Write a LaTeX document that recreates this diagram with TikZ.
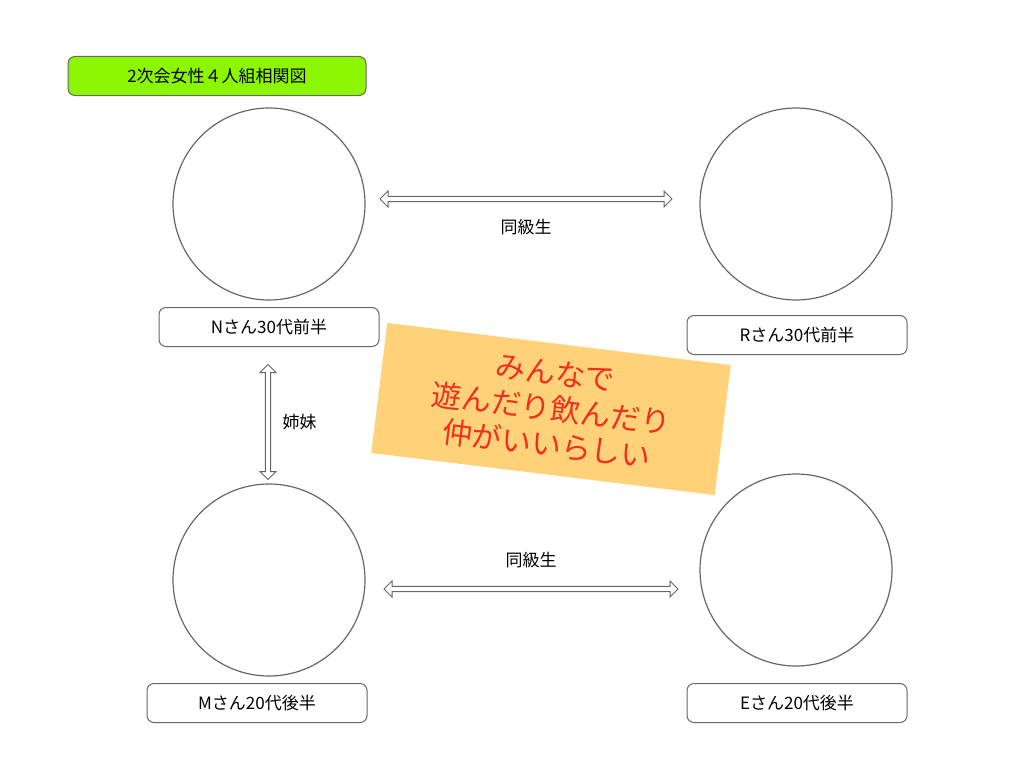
\documentclass[tikz,border=0pt]{standalone}
\usepackage{fontspec}
\setmainfont{Noto Sans CJK JP}
\usetikzlibrary{shapes.arrows, positioning}
\definecolor{lime}{HTML}{8CF500}
\definecolor{note}{HTML}{FFD27A}
\definecolor{ink}{HTML}{F0301E}
\begin{document}
\begin{tikzpicture}[
      x=1pt, y=-1pt,
      person/.style={circle, draw=gray!80!black, line width=1.2pt, minimum size=192pt},
      namebox/.style={rectangle, draw=gray!80!black, rounded corners=7pt, line width=1pt, minimum width=220pt, minimum height=39pt, font=\fontsize{17}{20}\selectfont},
      link/.style={double arrow, draw=gray!80!black, fill=white, line width=1pt, minimum height=#1, minimum width=16pt, double arrow head extend=3pt, inner sep=1pt},
      tag/.style={font=\fontsize{17}{20}\selectfont}
      ]
      \useasboundingbox (0,0) rectangle (1024,768);

      % Title
      \node[rectangle, draw=gray!80!black, fill=lime, rounded corners=7pt, line width=1pt, minimum width=298pt, minimum height=39pt, font=\fontsize{17}{20}\selectfont] (title) at (217,76) {2次会女性４人組相関図};

      % People
      \node[person] (n) at (269,204) {};
      \node[person] (r) at (796,204) {};
      \node[person] (m) at (269,580) {};
      \node[person] (e) at (796,570) {};

      % Names
      \node[namebox] (nname) at (269,327) {Nさん30代前半};
      \node[namebox] (rname) at (797,335) {Rさん30代前半};
      \node[namebox] (mname) at (257,703) {Mさん20代後半};
      \node[namebox] (ename) at (797,703) {Eさん20代後半};

      % Links
      \node[link=292pt] (nr) at (526,199) {};
      \node[tag, below=14pt of nr] (nrtag) {同級生};
      \node[link=294pt] (me) at (531,589) {};
      \node[tag, above=14pt of me] (metag) {同級生};
      \node[link=115pt, rotate=90] (nm) at (268,422) {};
      \node[tag, right=8pt of nm.south] (nmtag) {姉妹};

      % Note
      \node[rectangle, fill=note, rotate=-7, minimum width=346pt, minimum height=131pt, align=center, text=ink, font=\fontsize{30}{36}\selectfont] (memo) at (551,409) {みんなで\\遊んだり飲んだり\\仲がいいらしい};

   \end{tikzpicture}
\end{document}
